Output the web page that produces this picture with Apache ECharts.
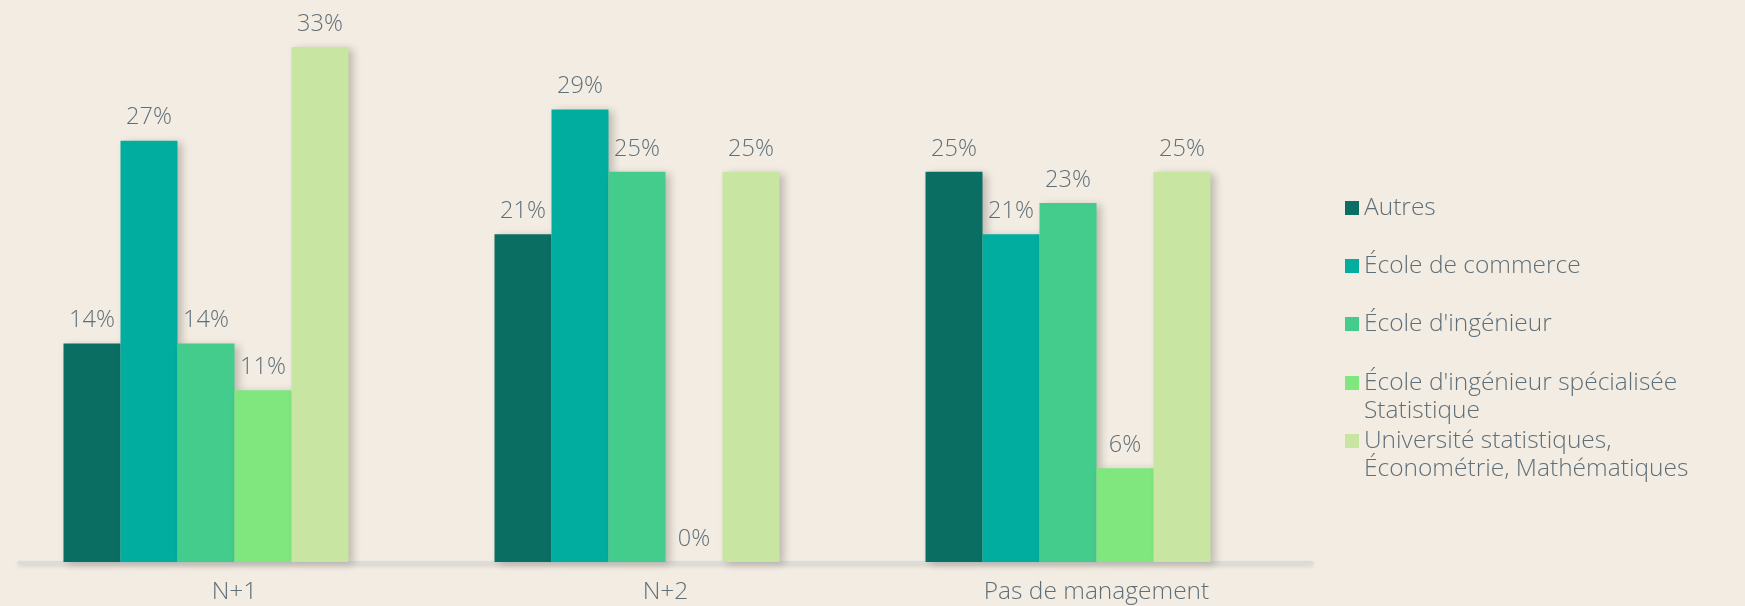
<!DOCTYPE html>
<html>
<head>
<meta charset="utf-8">
<script src="https://cdn.jsdelivr.net/npm/echarts@6/dist/echarts.min.js"></script>
<style>
  html, body { margin: 0; padding: 0; background: #f3ece2; }
  #chart { width: 1745px; height: 606px; }
</style>
</head>
<body>
<div id="chart"></div>
<script>
// categories & series
const categories = ['N+1', 'N+2', 'Pas de management'];
const seriesNames = [
  'Autres',
  'École de commerce',
  "École d'ingénieur",
  "École d'ingénieur spécialisée\nStatistique",
  'Université statistiques,\nÉconométrie, Mathématiques'
];
const autres = [14, 21, 25];
const ecoleCommerce = [27, 29, 21];
const ecoleIngenieur = [14, 25, 23];
const ecoleIngenieurStat = [11, 0, 6];
const universite = [33, 25, 25];
const seriesValues = [autres, ecoleCommerce, ecoleIngenieur, ecoleIngenieurStat, universite];

const colors = ['#0b6e63', '#00ad9f', '#43cc8b', '#80e77e', '#c8e6a2'];
const textColor = '#5f6f78';
const font = 'Open Sans';

// legend first-line centers (px)
const legendCenters = [208, 266, 324, 383, 441];

const chart = echarts.init(document.getElementById('chart'));

const legends = seriesNames.map((name, i) => {
  const multi = name.indexOf('\n') >= 0;
  return {
    orient: 'vertical',
    left: 1345,
    top: multi ? legendCenters[i] - 42 : legendCenters[i] - 14,
    padding: 0,
    itemWidth: 14,
    itemHeight: 14,
    itemGap: 0,
    icon: 'rect',
    selectedMode: false,
    data: [name],
    // blank first line so the icon lines up with the first text line
    formatter: multi ? (n) => ' \n' + n : '{name}',
    textStyle: {
      color: textColor,
      fontFamily: font,
      fontWeight: 300,
      fontSize: 24.5,
      lineHeight: 28
    }
  };
});

const barSeries = seriesNames.map((name, i) => ({
  name: name,
  type: 'bar',
  data: seriesValues[i],
  barWidth: 57,
  barGap: '0%',
  itemStyle: {
    color: colors[i],
    shadowColor: 'rgba(0,0,0,0.22)',
    shadowBlur: 8,
    shadowOffsetX: 4,
    shadowOffsetY: 2
  },
  label: {
    show: true,
    position: 'top',
    distance: 11,
    formatter: '{c}%',
    color: textColor,
    fontFamily: font,
    fontWeight: 300,
    fontSize: 23.5
  }
}));

// the original keeps an empty sixth slot in each group, so bars sit left of the label
barSeries.push({ name: '', type: 'bar', data: [], barWidth: 57, barGap: '0%' });

const option = {
  backgroundColor: '#f3ece2',
  color: colors,
  textStyle: { fontFamily: font },
  legend: legends,
  grid: {
    left: 19,
    right: 433,
    top: 47,
    bottom: 44
  },
  xAxis: {
    type: 'category',
    data: categories,
    axisLine: {
      lineStyle: { color: '#d9dcdc', width: 3, shadowColor: 'rgba(0,0,0,0.15)', shadowBlur: 4, shadowOffsetY: 2 }
    },
    axisTick: { show: false },
    axisLabel: {
      color: textColor,
      fontFamily: font,
      fontWeight: 300,
      fontSize: 24.5,
      margin: 18
    }
  },
  yAxis: {
    type: 'value',
    min: 0,
    max: 33,
    show: false,
    splitLine: { show: false }
  },
  series: barSeries
};

chart.setOption(option);
</script>
</body>
</html>
